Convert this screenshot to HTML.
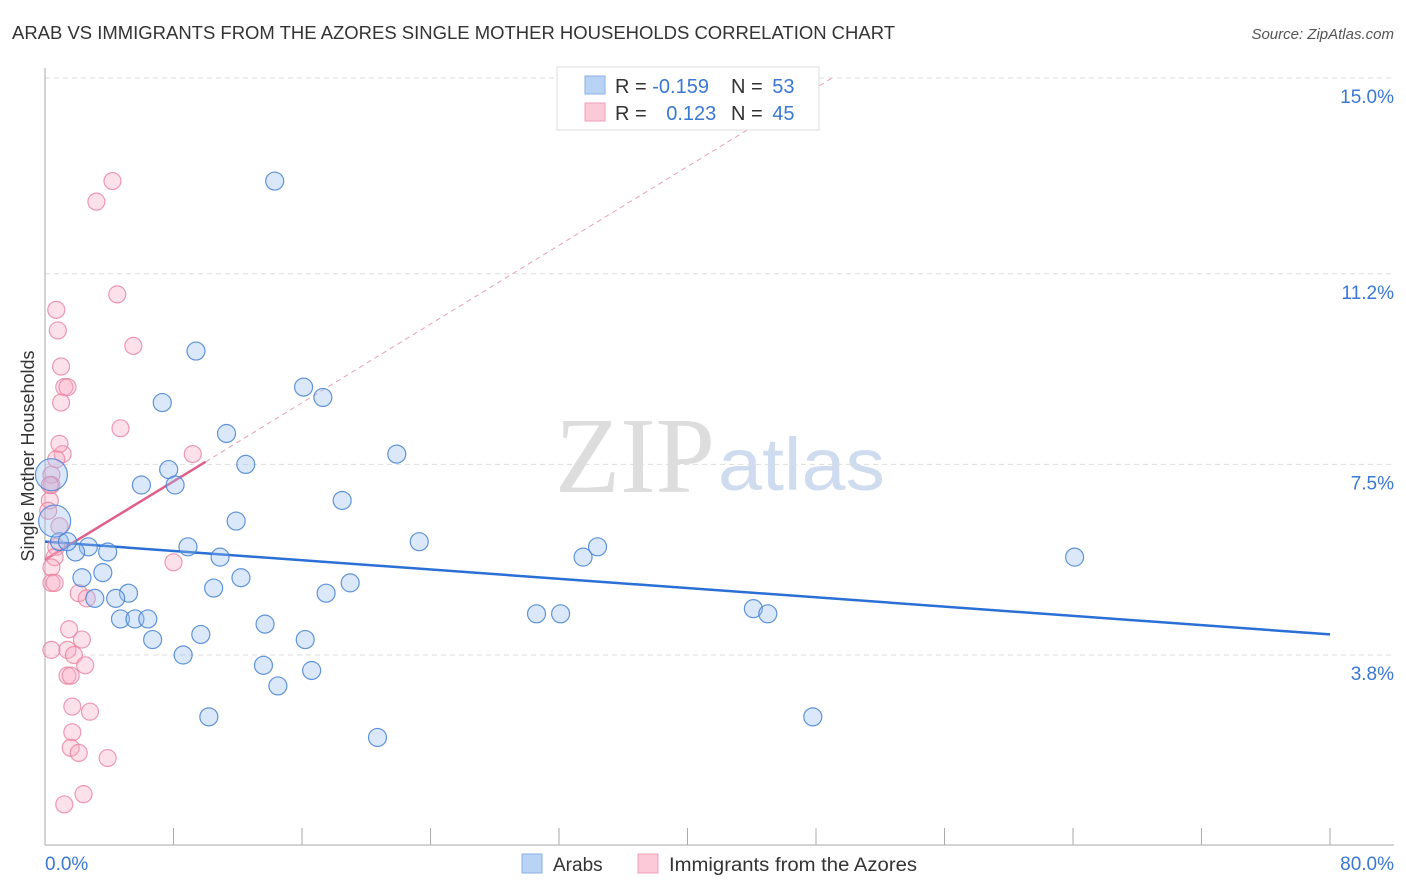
<!DOCTYPE html>
<html><head><meta charset="utf-8"><style>
body{margin:0;background:#fff;font-family:"Liberation Sans",sans-serif;}
svg{display:block}
</style></head><body>
<svg id="chart" width="1406" height="892">
<text x="12" y="39" font-size="18" fill="#333" textLength="883" lengthAdjust="spacingAndGlyphs">ARAB VS IMMIGRANTS FROM THE AZORES SINGLE MOTHER HOUSEHOLDS CORRELATION CHART</text>
<text x="1394" y="39" font-size="15" fill="#555" font-style="italic" text-anchor="end">Source: ZipAtlas.com</text>
<text x="555" y="492" font-size="108" fill="#ddd" font-family="Liberation Serif,serif" textLength="160" lengthAdjust="spacingAndGlyphs">ZIP</text>
<text x="718" y="490" font-size="74" fill="#cfdcf0" textLength="167" lengthAdjust="spacingAndGlyphs">atlas</text>
<g id="grid"></g><g id="axes"></g><g id="trend"></g><g id="pts"></g>
<text transform="translate(34,456) rotate(-90)" font-size="18" fill="#333" text-anchor="middle">Single Mother Households</text>
<text x="45" y="870" font-size="19" fill="#3a78d4">0.0%</text>
<text x="1394" y="870" font-size="19" fill="#3a78d4" text-anchor="end">80.0%</text>
<g>
<rect x="557" y="67" width="262" height="63" fill="#fff" stroke="#ddd"/>
<rect x="585" y="76" width="20" height="18" fill="#b9d3f5" stroke="#8ab0e6"/>
<rect x="585" y="103" width="20" height="18" fill="#fbc9d8" stroke="#f0a0b8"/>
<text x="615" y="93" font-size="20" fill="#333">R = <tspan fill="#3a78d4">-0.159</tspan></text>
<text x="731" y="93" font-size="20" fill="#333">N = <tspan fill="#3a78d4" dx="4">53</tspan></text>
<text x="615" y="120" font-size="20" fill="#333">R = <tspan fill="#3a78d4" dx="14">0.123</tspan></text>
<text x="731" y="120" font-size="20" fill="#333">N = <tspan fill="#3a78d4" dx="4">45</tspan></text>
</g>
<g>
<rect x="522" y="854" width="20" height="19" fill="#b9d3f5" stroke="#8ab0e6"/>
<text x="553" y="871" font-size="19" fill="#333">Arabs</text>
<rect x="638" y="854" width="20" height="19" fill="#fbc9d8" stroke="#f0a0b8"/>
<text x="669" y="871" font-size="19" fill="#333" textLength="248" lengthAdjust="spacingAndGlyphs">Immigrants from the Azores</text>
</g>
</svg>
<script>
const yTicks=[3.8,7.5,11.2,15.0];
const yTickLabels=["3.8%","7.5%","11.2%","15.0%"];
const xTicks=[0,8,16,24,32,40,48,56,64,72,80];
const arabX=[14.3,9.4,7.3,16.1,17.3,11.3,21.9,7.7,12.5,6.0,8.1,18.5,11.9,23.3,0.9,2.7,1.9,3.9,8.9,10.9,33.5,34.4,64.1,0.6,0.4,2.3,3.6,5.2,10.5,12.2,19.0,17.5,3.1,4.4,4.7,5.6,6.4,13.7,6.7,9.7,16.2,8.6,13.6,16.6,14.5,10.2,20.7,30.6,32.1,44.1,45.0,47.8,1.4];
const arabY=[13.0,9.7,8.7,9.0,8.8,8.1,7.7,7.4,7.5,7.1,7.1,6.8,6.4,6.0,6.0,5.9,5.8,5.8,5.9,5.7,5.7,5.9,5.7,6.4,7.3,5.3,5.4,5.0,5.1,5.3,5.2,5.0,4.9,4.9,4.5,4.5,4.5,4.4,4.1,4.2,4.1,3.8,3.6,3.5,3.2,2.6,2.2,4.6,4.6,4.7,4.6,2.6,6.0];
const arabR=[9,9,9,9,9,9,9,9,9,9,9,9,9,9,9,9,9,9,9,9,9,9,9,16,16,9,9,9,9,9,9,9,9,9,9,9,9,9,9,9,9,9,9,9,9,9,9,9,9,9,9,9,9];
const azX=[4.2,3.2,4.5,0.7,0.8,5.5,1.0,1.2,1.4,1.0,4.7,9.2,1.1,0.7,0.4,0.4,0.3,0.9,0.7,0.6,0.4,0.4,0.6,8.0,2.1,2.6,1.5,2.3,0.4,1.4,1.8,2.5,1.4,1.6,2.8,1.7,1.7,1.6,2.1,3.9,2.4,1.2,0.3,0.2,0.9];
const azY=[13.0,12.6,10.8,10.5,10.1,9.8,9.4,9.0,9.0,8.7,8.2,7.7,7.7,7.6,7.3,7.1,6.8,6.3,5.9,5.7,5.5,5.2,5.2,5.6,5.0,4.9,4.3,4.1,3.9,3.9,3.8,3.6,3.4,3.4,2.7,2.8,2.3,2.0,1.9,1.8,1.1,0.9,7.1,6.6,7.9];
const arabTrend=[0,6.0,80,4.2];
const azTrend=[0,5.65,10,7.55];
const azTrendExt=[10,7.55,49,15.0];
const X=v=>45+v/80*1285, Y=v=>78+(15-v)*51.52;
const NS="http://www.w3.org/2000/svg";
function mk(p,t,a){const e=document.createElementNS(NS,t);for(const k in a)e.setAttribute(k,a[k]);document.getElementById(p).appendChild(e);return e;}
yTicks.forEach((t,i)=>{
 const l=mk('grid','line',{x1:45,x2:1394,y1:Y(t),y2:Y(t),stroke:'#ddd','stroke-dasharray':'5,4'});
 
 
 const tx=mk('grid','text',{x:1394,y:Y(t)+25,'font-size':19,fill:'#3a78d4','text-anchor':'end'});
 tx.textContent=yTickLabels[i];
 
 
});
const ax=mk('axes','line',{x1:45,x2:45,y1:68,y2:845,stroke:'#aaa'});


const bx=mk('axes','line',{x1:45,x2:1394,y1:845,y2:845,stroke:'#aaa'});


xTicks.forEach(t=>{const l=mk('axes','line',{x1:X(t),x2:X(t),y1:828,y2:845,stroke:'#aaa'});
 
 });
function pts(xs,ys,fill,stroke,name,rs){xs.forEach((x,i)=>{const c=mk('pts','circle',{cx:X(x),cy:Y(ys[i]),r:rs?rs[i]:8.5,fill:fill,stroke:stroke,'stroke-width':1.2});
 
 });}
pts(azX,azY,'rgba(248,170,195,0.35)','rgba(232,130,160,0.8)','azores-point');
pts(arabX,arabY,'rgba(150,190,240,0.35)','rgba(70,130,210,0.85)','arab-point',arabR);
function ln(a,col,w,dash,name){const l=mk('trend','line',{x1:X(a[0]),y1:Y(a[1]),x2:X(a[2]),y2:Y(a[3]),stroke:col,'stroke-width':w});if(dash)l.setAttribute('stroke-dasharray',dash);
 
 }
ln(azTrendExt,'#e8a0b8',1,'5,4','azores-trend-extension');
ln(arabTrend,'#2a6fd6',2.5,null,'arab-trend-line');
ln(azTrend,'#e0608a',2.5,null,'azores-trend-line');
</script>
</body></html>
